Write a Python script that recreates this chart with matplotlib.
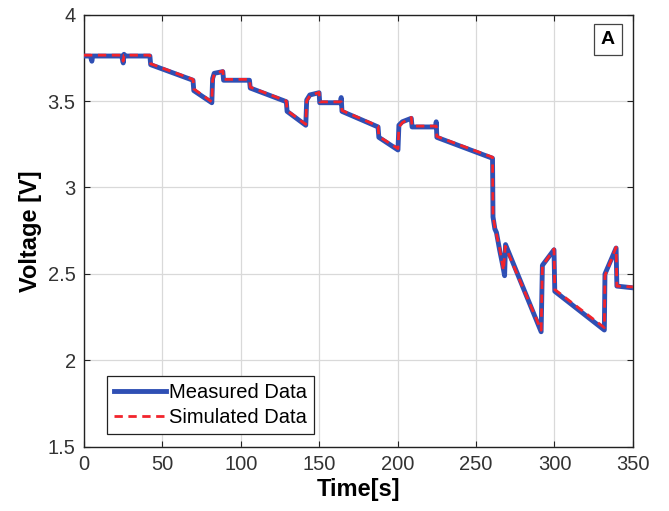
import matplotlib
matplotlib.use('Agg')
import matplotlib.pyplot as plt

plt.rcParams['font.family'] = ['Liberation Sans', 'DejaVu Sans']

# measured voltage breakpoints (time [s], voltage [V])
t_meas = [0, 4, 5, 5.5, 24, 25, 25.5, 26, 42, 42.5, 69.5, 70, 81.5, 82, 83, 88.5, 89,
          105.5, 106, 129, 129.5, 141.4, 142, 144, 149.9, 150.3, 163.5, 164, 164.5,
          187.5, 188, 200.2, 200.8, 203, 208.7, 209.2, 224.2, 224.6, 225, 260.5,
          260.8, 262, 263, 265, 267, 268.2, 268.8, 291.5, 292.3, 299.7, 300.2,
          331.8, 332.2, 339.3, 339.8, 350]
v_meas = [3.76, 3.76, 3.73, 3.76, 3.76, 3.72, 3.77, 3.76, 3.76, 3.71, 3.62, 3.56, 3.49,
          3.63, 3.66, 3.67, 3.62, 3.62, 3.575, 3.496, 3.44, 3.36, 3.506, 3.535, 3.548,
          3.49, 3.49, 3.52, 3.44, 3.35, 3.29, 3.217, 3.36, 3.38, 3.40, 3.35, 3.35,
          3.38, 3.29, 3.169, 2.83, 2.76, 2.74, 2.64, 2.55, 2.49, 2.67, 2.166, 2.55,
          2.64, 2.40, 2.176, 2.50, 2.65, 2.43, 2.42]

# simulated voltage breakpoints
t_sim = [0, 24, 25, 25.5, 42, 42.5, 69.5, 70, 81.5, 82, 83, 88.5, 89, 105.5, 106, 129,
         129.5, 141.4, 142, 144, 149.9, 150.3, 164, 164.5, 187.5, 188, 200.2, 200.8,
         203, 208.7, 209.2, 224.6, 225, 260.5, 260.8, 262, 265, 267.5, 268.6, 291.5,
         292.3, 299.7, 300.2, 331.8, 332.2, 339.3, 339.8, 350]
v_sim = [3.765, 3.765, 3.73, 3.765, 3.765, 3.715, 3.625, 3.57, 3.495, 3.62, 3.655, 3.675,
         3.625, 3.625, 3.58, 3.50, 3.445, 3.365, 3.50, 3.53, 3.55, 3.495, 3.495, 3.445,
         3.355, 3.295, 3.225, 3.35, 3.375, 3.405, 3.355, 3.355, 3.295, 3.175, 2.84,
         2.77, 2.65, 2.52, 2.66, 2.175, 2.545, 2.645, 2.41, 2.19, 2.49, 2.655, 2.43,
         2.425]

fig = plt.figure(figsize=(6.69, 5.11), dpi=100)
ax = fig.add_axes([0.1256, 0.1253, 0.8204, 0.8463])

ax.plot(t_meas, v_meas, color='#2f4fb4', lw=3.5, label='Measured Data', zorder=3)
ax.plot(t_sim, v_sim, color='#f2242c', lw=2.0, dashes=(3, 2), label='Simulated Data', zorder=4)

ax.set_xlim(0, 350)
ax.set_ylim(1.5, 4)
ax.set_xticks(range(0, 351, 50))
ax.set_yticks([1.5, 2, 2.5, 3, 3.5, 4])
ax.set_yticklabels(['1.5', '2', '2.5', '3', '3.5', '4'])
ax.tick_params(direction='in', top=True, right=True, labelsize=14.5, length=4,
               colors='#222222', labelcolor='#333333', pad=6)
ax.grid(color='#d9d9d9', lw=0.9)
for s in ax.spines.values():
    s.set_linewidth(1.0)
    s.set_color('#222222')

ax.set_xlabel('Time[s]', fontsize=17, fontweight='bold', labelpad=3)
ax.set_ylabel('Voltage [V]', fontsize=17, fontweight='bold', labelpad=4)

leg = ax.legend(loc='lower left', bbox_to_anchor=(0.042, 0.03), fontsize=14.5, handlelength=2.6,
                handletextpad=0.1, borderpad=0.35, labelspacing=0.3, fancybox=False,
                framealpha=1, edgecolor='#222222', borderaxespad=0)
leg.get_frame().set_linewidth(0.9)

ax.text(0.967, 0.962, 'A', transform=ax.transAxes, ha='right', va='top', fontsize=14,
        fontweight='bold', bbox=dict(boxstyle='square,pad=0.35', fc='white', ec='#444444', lw=0.9))

fig.savefig('out.png', dpi=100)
